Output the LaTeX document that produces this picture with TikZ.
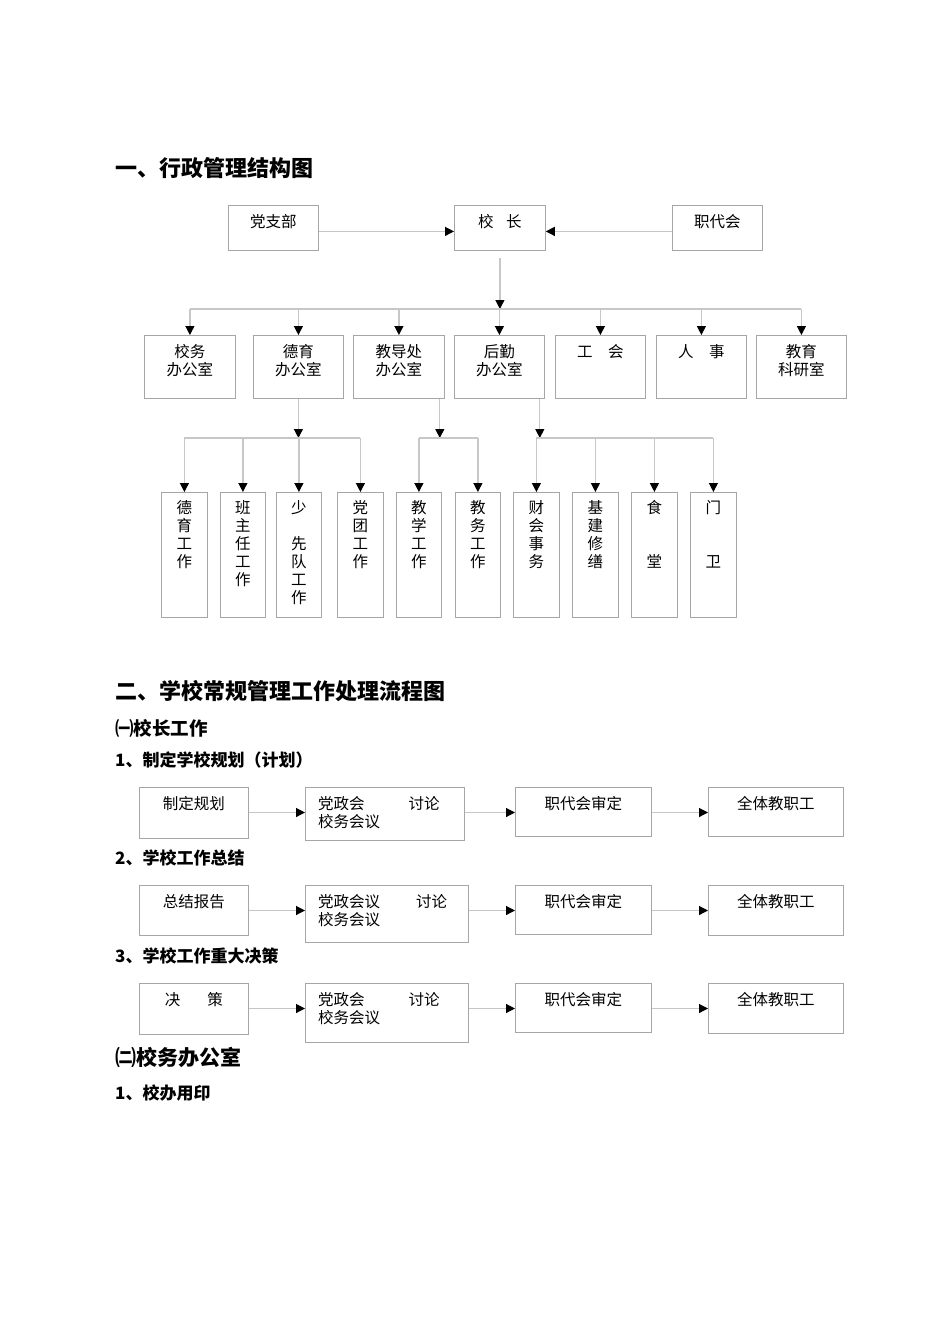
\documentclass[tikz,border=0pt]{standalone}
\usepackage{fontspec}
\setmainfont{Noto Sans CJK SC}
\usetikzlibrary{arrows.meta}

\tikzset{
	box/.style={draw=black!35, line width=0.8pt, inner sep=0pt, anchor=north west},
	txt/.style={inner sep=0pt, anchor=north, align=center, font=\fontsize{15.5}{18}\selectfont},
	conn/.style={draw=black!22, line width=1.2pt},
	arr/.style={conn, -{Triangle[length=9pt,width=9pt,color=black]}},
	hd/.style={inner sep=0pt, anchor=west, font=\bfseries\fontsize{#1}{#1}\selectfont},
}

\begin{document}
\begin{tikzpicture}[x=1pt, y=-1pt]
	\fill[white] (0,0) rectangle (950,1344);
	\useasboundingbox (0,0) rectangle (950,1344);
	% Headings
	\node[hd=22] (t1) at (115,168) {一、行政管理结构图};
	\node[hd=22] (t2) at (115,691) {二、学校常规管理工作处理流程图};
	\node[hd=18.5] (t3) at (115,728) {㈠校长工作};
	\node[hd=17] (h1) at (115,760) {1、制定学校规划（计划）};
	\node[hd=17] (h2) at (115,858) {2、学校工作总结};
	\node[hd=17] (h3) at (115,956) {3、学校工作重大决策};
	\node[hd=21] (t4) at (115,1057) {㈡校务办公室};
	\node[hd=17] (h4) at (115,1093) {1、校办用印};
	% Top row
	\node[box, minimum width=90pt, minimum height=45pt] (dzb) at (228,205) {};
	\node[box, minimum width=91pt, minimum height=45pt] (xz) at (454,205) {};
	\node[box, minimum width=90pt, minimum height=45pt] (zdh) at (672,205) {};
	\node[txt] (dzb-t) at ([yshift=-9pt]dzb.north) {党支部};
	\node[txt] (xz-t) at ([yshift=-9pt]xz.north) {校\hspace{0.8em}长};
	\node[txt] (zdh-t) at ([yshift=-9pt]zdh.north) {职代会};
	\draw[arr] ([yshift=-3.5pt]dzb.east) -- ([yshift=-3.5pt]xz.west);
	\draw[arr] ([yshift=-3.5pt]zdh.west) -- ([yshift=-3.5pt]xz.east);
	% Offices
	\node[box, minimum width=91pt, minimum height=63pt] (xwb) at (144,335) {};
	\node[box, minimum width=90pt, minimum height=63pt] (dyb) at (253,335) {};
	\node[box, minimum width=91pt, minimum height=63pt] (jdc) at (353,335) {};
	\node[box, minimum width=90pt, minimum height=63pt] (hqb) at (454,335) {};
	\node[box, minimum width=90pt, minimum height=63pt] (gh) at (555,335) {};
	\node[box, minimum width=90pt, minimum height=63pt] (rs) at (656,335) {};
	\node[box, minimum width=90pt, minimum height=63pt] (jyk) at (756,335) {};
	\node[txt] (xwb-t) at ([yshift=-9pt]xwb.north) {校务\\办公室};
	\node[txt] (dyb-t) at ([yshift=-9pt]dyb.north) {德育\\办公室};
	\node[txt] (jdc-t) at ([yshift=-9pt]jdc.north) {教导处\\办公室};
	\node[txt] (hqb-t) at ([yshift=-9pt]hqb.north) {后勤\\办公室};
	\node[txt] (gh-t) at ([yshift=-9pt]gh.north) {工\hspace{1em}会};
	\node[txt] (rs-t) at ([yshift=-9pt]rs.north) {人\hspace{1em}事};
	\node[txt] (jyk-t) at ([yshift=-9pt]jyk.north) {教育\\科研室};
	\coordinate (bus) at (0,309);
	\draw[arr] ([yshift=-7pt]xz.south) -- (xz.south |- bus);
	\draw[conn] (xwb.north |- bus) -- (jyk.north |- bus);
	\foreach \n in {xwb,dyb,jdc,hqb,gh,rs,jyk}
		\draw[arr] (\n.north |- bus) -- (\n.north);
	% Work units
	\node[box, minimum width=46pt, minimum height=125pt] (s1) at (161,492) {};
	\node[box, minimum width=45pt, minimum height=125pt] (s2) at (220,492) {};
	\node[box, minimum width=45pt, minimum height=125pt] (s3) at (276,492) {};
	\node[box, minimum width=46pt, minimum height=125pt] (s4) at (337,492) {};
	\node[box, minimum width=45pt, minimum height=125pt] (s5) at (396,492) {};
	\node[box, minimum width=45pt, minimum height=125pt] (s6) at (455,492) {};
	\node[box, minimum width=46pt, minimum height=125pt] (s7) at (513,492) {};
	\node[box, minimum width=46pt, minimum height=125pt] (s8) at (572,492) {};
	\node[box, minimum width=46pt, minimum height=125pt] (s9) at (631,492) {};
	\node[box, minimum width=46pt, minimum height=125pt] (s10) at (690,492) {};
	\node[txt] (s1-t) at ([yshift=-8pt]s1.north) {德\\育\\工\\作};
	\node[txt] (s2-t) at ([yshift=-8pt]s2.north) {班\\主\\任\\工\\作};
	\node[txt] (s3-t) at ([yshift=-8pt]s3.north) {少\\ \\先\\队\\工\\作};
	\node[txt] (s4-t) at ([yshift=-8pt]s4.north) {党\\团\\工\\作};
	\node[txt] (s5-t) at ([yshift=-8pt]s5.north) {教\\学\\工\\作};
	\node[txt] (s6-t) at ([yshift=-8pt]s6.north) {教\\务\\工\\作};
	\node[txt] (s7-t) at ([yshift=-8pt]s7.north) {财\\会\\事\\务};
	\node[txt] (s8-t) at ([yshift=-8pt]s8.north) {基\\建\\修\\缮};
	\node[txt] (s9-t) at ([yshift=-8pt]s9.north) {食\\ \\ \\堂};
	\node[txt] (s10-t) at ([yshift=-8pt]s10.north) {门\\ \\ \\卫};
	\coordinate (sub) at (0,438);
	\coordinate (jdc-o) at ([xshift=-5pt]jdc.south east);
	\coordinate (hqb-o) at ([xshift=-5pt]hqb.south east);
	\draw[arr] (dyb.south) -- (dyb.south |- sub);
	\draw[arr] (jdc-o) -- (jdc-o |- sub);
	\draw[arr] (hqb-o) -- (hqb-o |- sub);
	\draw[conn] (s1.north |- sub) -- (s4.north |- sub);
	\draw[conn] (s5.north |- sub) -- (s6.north |- sub);
	\draw[conn] (s7.north |- sub) -- (s10.north |- sub);
	\foreach \n in {s1,s2,s3,s4,s5,s6,s7,s8,s9,s10}
		\draw[arr] (\n.north |- sub) -- (\n.north);
	% Flow 1
	\node[box, minimum width=109pt, minimum height=51pt] (src-1) at (139,787) {};
	\node[box, minimum width=159pt, minimum height=53pt] (mtg-1) at (305,787) {};
	\node[box, minimum width=136pt, minimum height=49pt] (rev-1) at (515,787) {};
	\node[box, minimum width=135pt, minimum height=49pt] (all-1) at (708,787) {};
	\node[txt] (src-1-t) at ([yshift=-9pt]src-1.north) {制定规划};
	\node[txt, align=left, anchor=north west] (mtg-1-t) at ([xshift=13pt,yshift=-9pt]mtg-1.north west) {党政会\hspace*{44pt}讨论\\校务会议};
	% Flow 2
	\node[box, minimum width=109pt, minimum height=50pt] (src-2) at (139,885) {};
	\node[box, minimum width=163pt, minimum height=57pt] (mtg-2) at (305,885) {};
	\node[box, minimum width=136pt, minimum height=49pt] (rev-2) at (515,885) {};
	\node[box, minimum width=135pt, minimum height=50pt] (all-2) at (708,885) {};
	\node[txt] (src-2-t) at ([yshift=-9pt]src-2.north) {总结报告};
	\node[txt, align=left, anchor=north west] (mtg-2-t) at ([xshift=13pt,yshift=-9pt]mtg-2.north west) {党政会议\hspace*{36pt}讨论\\校务会议};
	% Flow 3
	\node[box, minimum width=109pt, minimum height=51pt] (src-3) at (139,983) {};
	\node[box, minimum width=163pt, minimum height=59pt] (mtg-3) at (305,983) {};
	\node[box, minimum width=136pt, minimum height=49pt] (rev-3) at (515,983) {};
	\node[box, minimum width=135pt, minimum height=50pt] (all-3) at (708,983) {};
	\node[txt] (src-3-t) at ([yshift=-9pt]src-3.north) {决\hspace{1.75em}策};
	\node[txt, align=left, anchor=north west] (mtg-3-t) at ([xshift=13pt,yshift=-9pt]mtg-3.north west) {党政会\hspace*{44pt}讨论\\校务会议};
	\foreach \r in {1,2,3} {
		\node[txt] (rev-\r-t) at ([yshift=-9pt]rev-\r.north) {职代会审定};
		\node[txt] (all-\r-t) at ([yshift=-9pt]all-\r.north) {全体教职工};
		\draw[arr] ([yshift=-25.5pt]src-\r.north east) -- ([yshift=-25.5pt]mtg-\r.north west);
		\draw[arr] ([yshift=-25.5pt]mtg-\r.north east) -- ([yshift=-25.5pt]rev-\r.north west);
		\draw[arr] ([yshift=-25.5pt]rev-\r.north east) -- ([yshift=-25.5pt]all-\r.north west);
	}
\end{tikzpicture}
\end{document}
